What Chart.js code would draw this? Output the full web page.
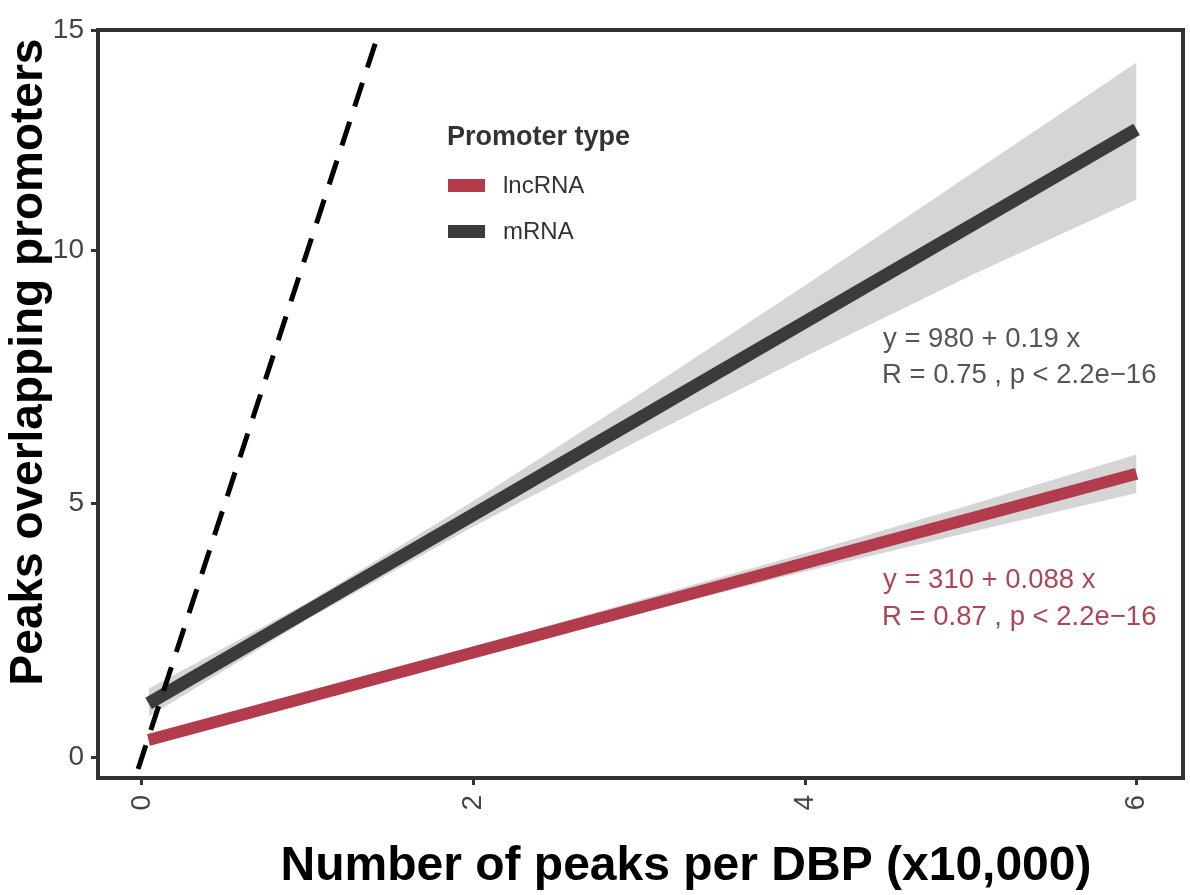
<!DOCTYPE html>
<html>
<head>
<meta charset="utf-8">
<script src="https://cdn.jsdelivr.net/npm/chart.js@4.4.1/dist/chart.umd.min.js"></script>
<style>
	body { margin: 0; background: #fff; }
	canvas { display: block; }
</style>
</head>
<body>
<canvas id="myChart" width="1190" height="895"></canvas>
<script>
// axis ticks
const xTicks = [0, 2, 4, 6];
const xTickLabels = ['0', '2', '4', '6'];
const yTicks = [0, 5, 10, 14.34];
const yTickLabels = ['0', '5', '10', '15'];

// fitted lines (x in 10,000 peaks, y in 1,000 promoters)
const fitX = [0.04, 6];
const mrnaFit = [1.06, 12.38];
const lncFit = [0.34, 5.59];

// confidence bands
const bandX = [0.04, 1, 2, 3, 4, 5, 6];
const mrnaUpper = [1.35, 3.05, 5.05, 7.15, 9.3, 11.5, 13.7];
const mrnaLower = [0.8, 2.72, 4.55, 6.25, 7.9, 9.5, 11.0];
const lncUpper = [0.45, 1.28, 2.18, 3.1, 4.02, 4.98, 5.97];
const lncLower = [0.24, 1.1, 1.98, 2.84, 3.66, 4.44, 5.21];

// dashed reference line
const dashX = [-0.1, 1.45];
const dashY = [-1, 14.5];

const categories = ['lncRNA', 'mRNA'];
const legendTitle = 'Promoter type';
const mrnaText = ['y = 980 + 0.19 x', 'R = 0.75 , p < 2.2e\u221216'];
const lncText = ['y = 310 + 0.088 x', 'R = 0.87 , p < 2.2e\u221216'];
const xTitle = 'Number of peaks per DBP (x10,000)';
const yTitle = 'Peaks overlapping promoters';

const red = '#b23c4c';
const dark = '#3b3b3b';
const band = '#d5d5d5';

function pts(xs, ys) {
	return xs.map((x, i) => ({x: x, y: ys[i]}));
}

const extras = {
	id: 'extras',
	afterDatasetsDraw(chart) {
		const a = chart.chartArea;
		const c = chart.ctx;
		c.save();
		c.strokeStyle = '#333';
		c.lineWidth = 4;
		c.strokeRect(a.left, a.top, a.right - a.left, a.bottom - a.top);
		c.restore();
	},
	afterDraw(chart) {
		const c = chart.ctx;
		c.save();
		c.textBaseline = 'alphabetic';
		c.textAlign = 'left';

		// legend
		c.fillStyle = '#333';
		c.font = 'bold 27px "Liberation Sans", Arial, sans-serif';
		c.fillText(legendTitle, 447, 145);
		c.fillStyle = red;
		c.fillRect(448, 179, 37, 13);
		c.fillStyle = dark;
		c.fillRect(448, 225, 37, 13);
		c.fillStyle = '#333';
		c.font = '24px "Liberation Sans", Arial, sans-serif';
		c.fillText(categories[0], 503, 193);
		c.fillText(categories[1], 503, 239);

		// regression labels
		c.font = '27.5px "Liberation Sans", Arial, sans-serif';
		c.fillStyle = '#555';
		c.fillText(mrnaText[0], 883, 347);
		c.fillText(mrnaText[1], 882, 383);
		c.fillStyle = '#ad4555';
		c.fillText(lncText[0], 883, 588);
		c.fillText(lncText[1], 882, 625);

		// axis titles
		c.fillStyle = '#000';
		c.textAlign = 'center';
		c.font = 'bold 48px "Liberation Sans", Arial, sans-serif';
		c.fillText(xTitle, 686, 880);
		c.translate(42, 362);
		c.rotate(-Math.PI / 2);
		c.font = 'bold 46px "Liberation Sans", Arial, sans-serif';
		c.fillText(yTitle, 0, 0);
		c.restore();
	}
};

const ctx = document.getElementById('myChart').getContext('2d');

const myChart = new Chart(ctx, {
	type: 'line',
	data: {
		datasets: [
			{
				label: 'mRNA',
				data: pts(fitX, mrnaFit),
				borderColor: dark,
				borderWidth: 13,
				borderCapStyle: 'butt',
				pointRadius: 0,
				fill: false,
				order: 1
			},
			{
				label: 'lncRNA',
				data: pts(fitX, lncFit),
				borderColor: red,
				borderWidth: 12,
				borderCapStyle: 'butt',
				pointRadius: 0,
				fill: false,
				order: 1
			},
			{
				label: 'identity',
				data: pts(dashX, dashY),
				borderColor: '#000',
				borderWidth: 5,
				borderDash: [25, 16],
				pointRadius: 0,
				fill: false,
				order: 0
			},
			{
				label: 'mrnaUpper',
				data: pts(bandX, mrnaUpper),
				borderWidth: 0,
				pointRadius: 0,
				backgroundColor: band,
				fill: '+1',
				order: 5
			},
			{
				label: 'mrnaLower',
				data: pts(bandX, mrnaLower),
				borderWidth: 0,
				pointRadius: 0,
				fill: false,
				order: 5
			},
			{
				label: 'lncUpper',
				data: pts(bandX, lncUpper),
				borderWidth: 0,
				pointRadius: 0,
				backgroundColor: band,
				fill: '+1',
				order: 5
			},
			{
				label: 'lncLower',
				data: pts(bandX, lncLower),
				borderWidth: 0,
				pointRadius: 0,
				fill: false,
				order: 5
			}
		]
	},
	options: {
		responsive: false,
		animation: false,
		layout: { padding: { top: 30, right: 7, left: 0, bottom: 0 } },
		plugins: {
			legend: { display: false },
			tooltip: { enabled: false }
		},
		scales: {
			x: {
				type: 'linear',
				min: -0.265,
				max: 6.28,
				afterBuildTicks: s => { s.ticks = xTicks.map(v => ({value: v})); },
				afterFit: s => { s.height = 117; },
				ticks: {
					callback: (v, i) => xTickLabels[i],
					minRotation: 90,
					maxRotation: 90,
					padding: 10,
					color: '#444',
					font: { family: '"Liberation Sans", Arial, sans-serif', size: 28 }
				},
				grid: { display: true, drawOnChartArea: false, drawTicks: true, tickLength: 7, tickWidth: 3, tickColor: '#333' },
				border: { display: false }
			},
			y: {
				min: -0.41,
				max: 14.34,
				afterBuildTicks: s => { s.ticks = yTicks.map(v => ({value: v})); },
				afterFit: s => { s.width = 98; },
				ticks: {
					callback: (v, i) => yTickLabels[i],
					padding: 7,
					color: '#444',
					font: { family: '"Liberation Sans", Arial, sans-serif', size: 28 }
				},
				grid: { display: true, drawOnChartArea: false, drawTicks: true, tickLength: 7, tickWidth: 3, tickColor: '#333' },
				border: { display: false }
			}
		}
	},
	plugins: [extras]
});
</script>
</body>
</html>
